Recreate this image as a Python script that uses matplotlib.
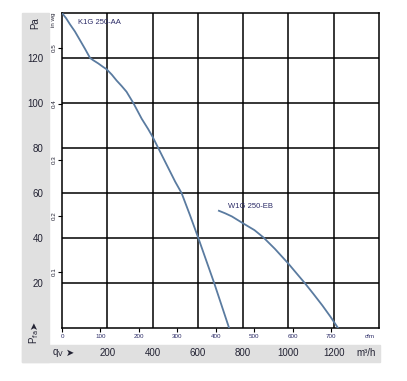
import matplotlib
matplotlib.use("Agg")
import matplotlib.pyplot as plt
from matplotlib.patches import Rectangle

plt.rcParams['font.family'] = ['Liberation Sans Narrow', 'Liberation Sans', 'DejaVu Sans']

# K1G 250-AA curve (m3/h, Pa)
k1g_q = [0, 18, 35, 57, 79, 102, 124, 138, 160, 182, 197, 220, 241, 263, 285, 315, 352,
         380, 400, 425, 450, 475, 500, 528, 565, 602, 637, 672, 705, 738]
k1g_p = [140, 137.7, 135, 131.8, 128, 124, 120, 119, 117.6, 116, 115, 112.6, 110, 107.6, 105, 100, 93,
         88.5, 85, 80, 75, 70, 65, 60, 50.2, 40, 30, 20, 10, 0]

# W1G 250-EB curve
w1g_q = [693, 720, 750, 800, 850, 889, 940, 999, 1035, 1072, 1110, 1150, 1185, 1219]
w1g_p = [52.1, 51.0, 49.6, 46.5, 43.5, 40.3, 35.2, 28.7, 24.4, 20, 15.2, 10, 5.1, 0]

q_ticks = [200, 400, 600, 800, 1000, 1200]
p_ticks = [20, 40, 60, 80, 100, 120]
cfm_ticks = [0, 100, 200, 300, 400, 500, 600, 700]
inwg_ticks = [0.1, 0.2, 0.3, 0.4, 0.5]

W, H = 407, 381
fig = plt.figure(figsize=(W / 100, H / 100), dpi=100)

def fx(px):
    return px / W

def fy(py):
    return 1 - py / H

ax = fig.add_axes([fx(62), fy(328), fx(379) - fx(62), fy(13) - fy(328)])
ax.set_xlim(0, 1400)
ax.set_ylim(0, 140)

# gray bands
gray = '#e0e0e0'
fig.patches.append(Rectangle((fx(22), fy(362)), fx(49) - fx(22), fy(13) - fy(362),
                             transform=fig.transFigure, color=gray, zorder=-1))
fig.patches.append(Rectangle((fx(22), fy(362)), fx(380) - fx(22), fy(345) - fy(362),
                             transform=fig.transFigure, color=gray, zorder=-1))

ax.set_xticks(q_ticks)
ax.set_yticks(p_ticks)
ax.grid(True, color='black', lw=1.1)
ax.tick_params(axis='x', length=0, pad=14.5, labelsize=7, labelcolor='#222233')
ax.tick_params(axis='y', length=0, pad=13.5, labelsize=7, labelcolor='#222233')
for s in ax.spines.values():
    s.set_linewidth(1.1)

curve_col = '#5a7ba0'
ax.plot(k1g_q, k1g_p, color=curve_col, lw=1.3, zorder=5, solid_joinstyle='round')
ax.plot(w1g_q, w1g_p, color=curve_col, lw=1.3, zorder=5, solid_joinstyle='round')
ax.text(71, 136, 'K1G 250-AA', fontsize=5.5, color='#2a2a66', va='center', ha='left')
ax.text(733, 53.8, 'W1G 250-EB', fontsize=5.5, color='#2a2a66', va='center', ha='left')

# secondary axes: cfm and in wg
cfm = ax.secondary_xaxis('bottom', functions=(lambda q: q / 1.699, lambda c: c * 1.699))
cfm.set_xticks(cfm_ticks)
cfm.tick_params(length=3, width=0.8, pad=1, labelsize=4.5, labelcolor='#2a2a66')
cfm.spines['bottom'].set_visible(False)

inwg = ax.secondary_yaxis('left', functions=(lambda p: p / 249.09, lambda w: w * 249.09))
inwg.set_yticks(inwg_ticks)
inwg.tick_params(length=3, width=0.8, pad=1, labelsize=4.5, labelcolor='#222233')
for lab in inwg.get_yticklabels():
    lab.set_rotation(90)
    lab.set_va('center')
inwg.spines['left'].set_visible(False)

fig.text(fx(54), fy(20), 'in wg', fontsize=4.5, rotation=90, ha='center', va='center', color='#222233')
fig.text(fx(35), fy(23), 'Pa', fontsize=7, rotation=90, ha='center', va='center', color='#222233')
fig.text(fx(370), fy(337), 'cfm', fontsize=4.5, ha='center', va='center', color='#2a2a66')
fig.text(fx(366), fy(353), 'm³/h', fontsize=7, ha='center', va='center', color='#222233')
fig.text(fx(58), fy(353), r'q$_\mathrm{V}$', fontsize=7, ha='center', va='center', color='#222233')
fig.text(fx(70), fy(353), '\u27a4', fontsize=7, ha='center', va='center', color='#222233',
         family=['DejaVu Sans'])
fig.text(fx(34), fy(325), '\u27a4', fontsize=7, rotation=90, ha='center', va='center',
         color='#222233', family=['DejaVu Sans'])
fig.text(fx(34), fy(337), r'P$_\mathrm{fa}$', fontsize=7, rotation=90, ha='center', va='center',
         color='#222233')

fig.savefig('out.png', dpi=100)
